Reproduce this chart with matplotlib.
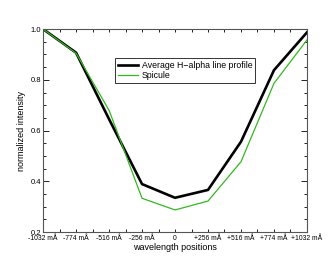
import matplotlib
matplotlib.use('Agg')
import matplotlib.pyplot as plt
from matplotlib.ticker import MultipleLocator

plt.rcParams['font.family'] = ['Liberation Sans', 'DejaVu Sans']

positions = ['-1032 mÅ', '-774 mÅ', '-516 mÅ', '-256 mÅ', '0',
             '+256 mÅ', '+516 mÅ', '+774 mÅ', '+1032 mÅ']
average_profile = [1.0, 0.907, 0.645, 0.389, 0.335, 0.366, 0.556, 0.838, 0.987]
spicule = [1.0, 0.905, 0.68, 0.333, 0.287, 0.322, 0.477, 0.786, 0.957]

fig = plt.figure(figsize=(3.34, 2.67), dpi=100)
ax = fig.add_axes([0.129, 0.131, 0.79, 0.76])

x = list(range(len(positions)))
ax.plot(x, average_profile, color='black', lw=1.9, label='Average H\u2212alpha line profile')
ax.plot(x, spicule, color='#33b81f', lw=0.9, label='Spicule')

ax.set_xlim(0, len(positions) - 1)
ax.set_ylim(0.2, 1.0)
ax.set_xticks(x)
ax.set_xticklabels(positions)
ax.xaxis.set_minor_locator(MultipleLocator(0.5))
ax.yaxis.set_major_locator(MultipleLocator(0.2))
ax.yaxis.set_minor_locator(MultipleLocator(0.05))
ax.tick_params(which='both', direction='in', top=True, right=True, labelsize=5.5, pad=1.5)
ax.tick_params(which='major', length=4, width=0.6)
ax.tick_params(which='minor', length=2, width=0.6)
ax.tick_params(axis='x', which='major', length=2, pad=2.5, labelsize=4.9)
for s in ax.spines.values():
    s.set_color('#555555')
    s.set_linewidth(0.8)

ax.set_xlabel('wavelength positions', fontsize=6.5, labelpad=0.5)
ax.set_ylabel('normalized intensity', fontsize=6.5, labelpad=3)

leg = ax.legend(loc='upper left', bbox_to_anchor=(0.272, 0.86), fontsize=6.3,
                frameon=True, fancybox=False, handlelength=2.3, handletextpad=0.4,
                borderpad=0.35, labelspacing=0.2, borderaxespad=0)
leg.get_frame().set_edgecolor('black')
leg.get_frame().set_linewidth(0.7)

fig.savefig('out.png', dpi=100)
